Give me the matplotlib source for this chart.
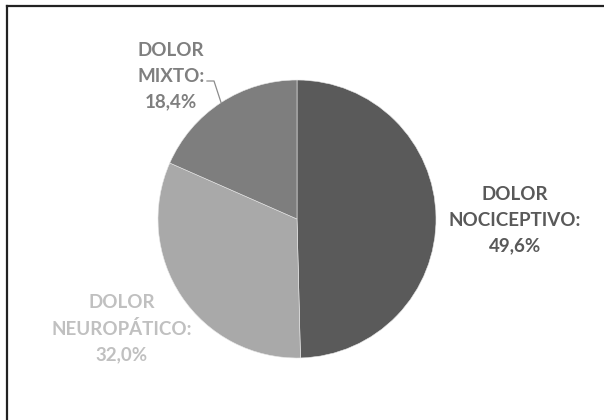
import matplotlib
matplotlib.use("Agg")
import matplotlib.pyplot as plt
from matplotlib.lines import Line2D
import numpy as np

# Distribución de tipos de dolor (%)
categorias = ["DOLOR\nNOCICEPTIVO:", "DOLOR\nNEUROPÁTICO:", "DOLOR\nMIXTO:"]
valores = [49.6, 32.0, 18.4]
colores = ["#5a5a5a", "#a9a9a9", "#7e7e7e"]
colores_texto = ["#595959", "#c0c0c0", "#7f7f7f"]

W, H = 604, 420
fig = plt.figure(figsize=(W / 100, H / 100), dpi=100)
ax = fig.add_axes([0, 0, 1, 1])

cx, cy, r = 297, H - 219, 139
wedges, _ = ax.pie(valores, colors=colores, startangle=90, counterclock=False,
                   center=(cx, cy), radius=r, frame=True,
                   wedgeprops=dict(edgecolor="#e8e8e8", linewidth=0.4))
ax.set_xlim(0, W)
ax.set_ylim(0, H)
ax.set_aspect("equal")
ax.axis("off")

def etiqueta(cat, val):
    return f"{cat}\n{val:.1f}%".replace(".", ",")

pos_texto = [(515, H - 220), (122, H - 329), (171, H - 76)]
for cat, val, col, (tx, ty) in zip(categorias, valores, colores_texto, pos_texto):
    ax.text(tx, ty, etiqueta(cat, val), ha="center", va="center",
            fontsize=13.5, fontweight="bold", family="Lato",
            color=col, linespacing=1.6)

# Línea guía de la porción "mixto"
w = wedges[2]
ang = np.deg2rad((w.theta1 + w.theta2) / 2)
ex, ey = cx + r * np.cos(ang), cy + r * np.sin(ang)
ax.add_line(Line2D([207, 214, ex], [H - 81, H - 81, ey], color="#8c8c8c", lw=0.9))

# Marco (bordes izquierdo y superior)
ax.add_line(Line2D([7, 7], [0, H - 6], color="#222222", lw=1.6))
ax.add_line(Line2D([7, W], [H - 6, H - 6], color="#222222", lw=1.6))

fig.savefig("out.png", dpi=100, facecolor="white")
